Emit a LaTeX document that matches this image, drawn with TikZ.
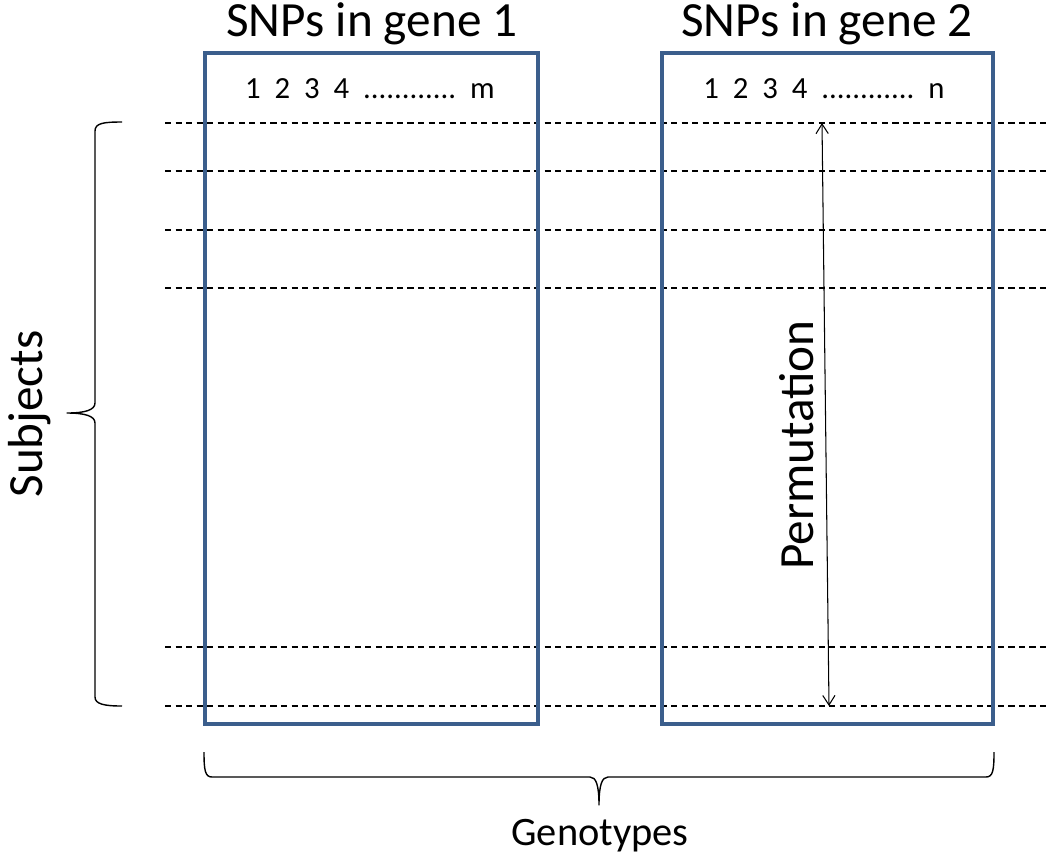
\documentclass[tikz,border=0pt]{standalone}
\usepackage{fontspec}
\setmainfont{Carlito}
\usetikzlibrary{arrows.meta}
\definecolor{boxblue}{RGB}{59,94,140}
\tikzset{
  genebox/.style={draw=boxblue,line width=1.8pt},
  rowline/.style={dash pattern=on 3.5pt off 2.5pt,line width=0.7pt},
  bracepath/.style={line width=0.8pt,line join=round},
  permarrow/.style={{Straight Barb[length=5.5pt,width=7pt]}-{Straight Barb[length=5.5pt,width=7pt]},line width=0.6pt},
}
\begin{document}
\begin{tikzpicture}[x=0.02cm,y=-0.02cm]
   \useasboundingbox (0,0) rectangle (1050,860);
   % subject rows
   \draw[rowline] (165,123) -- (1050,123);
   \draw[rowline] (165,171) -- (1050,171);
   \draw[rowline] (165,230) -- (1050,230);
   \draw[rowline] (165,288) -- (1050,288);
   \draw[rowline] (165,647) -- (1050,647);
   \draw[rowline] (165,706) -- (1050,706);
   % genes
   \draw[genebox] (205,53) rectangle (538,724);
   \draw[genebox] (662,53) rectangle (993,724);
   \node[anchor=base] (gene1) at (372,36) {\fontsize{28}{33}\selectfont SNPs in gene 1};
   \node[anchor=base] (gene2) at (827,36) {\fontsize{28}{33}\selectfont SNPs in gene 2};
   \node[anchor=base] (snps1) at (370,98) {\fontsize{17.5}{21}\selectfont 1\ \ 2\ \ 3\ \ 4\ \ ............\ \ m};
   \node[anchor=base] (snps2) at (824,98) {\fontsize{17.5}{21}\selectfont 1\ \ 2\ \ 3\ \ 4\ \ ............\ \ n};
   % permutation
   \coordinate (ptop) at (822,123);
   \coordinate (pbot) at (829,706);
   \draw[permarrow] (ptop) -- (pbot);
   \node[rotate=90] (perm) at (797,445) {\fontsize{28}{34}\selectfont Permutation};
   % braces
   \coordinate (stop) at (122,122);
   \coordinate (stip) at (67,413);
   \coordinate (sbot) at (122,706);
   \draw[bracepath] (stop) .. controls (104,122) and (95,123) .. (95,131) -- (95,403)
      .. controls (95,410) and (85,413) .. (stip) .. controls (85,413) and (95,416) .. (95,423)
      -- (95,697) .. controls (95,704) and (104,706) .. (sbot);
   \node[rotate=90] (subj) at (30,414) {\fontsize{28}{34}\selectfont Subjects};
   \coordinate (gleft) at (204,752);
   \coordinate (gtip) at (599,805);
   \coordinate (gright) at (994,752);
   \draw[bracepath] (gleft) .. controls (204,770) and (205,777) .. (212,777) -- (590,777)
      .. controls (596,777) and (599,785) .. (gtip) .. controls (599,785) and (602,777) .. (608,777)
      -- (986,777) .. controls (993,777) and (994,770) .. (gright);
   \node (geno) at (600,836) {\fontsize{23}{28}\selectfont Genotypes};
\end{tikzpicture}
\end{document}
